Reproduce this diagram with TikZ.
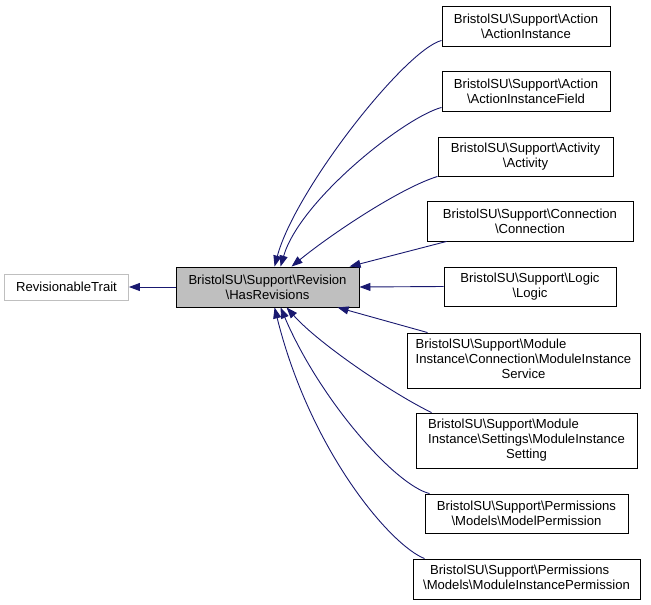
\documentclass[tikz,border=0pt]{standalone}
\usepackage{fontspec}
\setmainfont{Liberation Sans}
\usetikzlibrary{arrows.meta}
\definecolor{edgeblue}{HTML}{191970}
\definecolor{boxgray}{HTML}{BFBFBF}
\newcommand{\bs}{\textbackslash}
\tikzset{
  cls/.style={draw=black, line width=0.9pt, inner sep=0pt, align=center,
    font=\fontsize{13.1}{14.7}\selectfont},
  edge/.style={draw=edgeblue, line width=0.9pt,
    -{Triangle[length=11pt,width=8pt,fill=edgeblue]}},
}
\begin{document}
\begin{tikzpicture}[x=1pt,y=-1pt]
\useasboundingbox (0,0) rectangle (651,605);
\node[cls, draw=boxgray, minimum width=124pt, minimum height=26pt] (rt) at (66.5,287) {RevisionableTrait};
\node[cls, fill=boxgray, minimum width=183pt, minimum height=40pt] (hr) at (267.5,287) {BristolSU\bs Support\bs Revision\\\bs HasRevisions};
\node[cls, minimum width=168pt, minimum height=40pt] (ai) at (526,26) {BristolSU\bs Support\bs Action\\\bs ActionInstance};
\node[cls, minimum width=168pt, minimum height=40pt] (aif) at (526,91) {BristolSU\bs Support\bs Action\\\bs ActionInstanceField};
\node[cls, minimum width=175pt, minimum height=39pt] (act) at (525.5,156.5) {BristolSU\bs Support\bs Activity\\\bs Activity};
\node[cls, minimum width=206pt, minimum height=40pt] (conn) at (530,221) {BristolSU\bs Support\bs Connection\\\bs Connection};
\node[cls, minimum width=172pt, minimum height=39pt] (logic) at (530,286.5) {BristolSU\bs Support\bs Logic\\\bs Logic};
\node[cls, minimum width=233pt, minimum height=55pt] (mis) at (523.5,360.5) {\begin{tabular}{@{}l@{}}BristolSU\bs Support\bs Module\\Instance\bs Connection\bs ModuleInstance\\\multicolumn{1}{@{}c@{}}{Service}\end{tabular}};
\node[cls, minimum width=221pt, minimum height=55pt] (set) at (526.5,440.5) {\begin{tabular}{@{}l@{}}BristolSU\bs Support\bs Module\\Instance\bs Settings\bs ModuleInstance\\\multicolumn{1}{@{}c@{}}{Setting}\end{tabular}};
\node[cls, minimum width=203pt, minimum height=39pt] (mp) at (526.5,513.5) {BristolSU\bs Support\bs Permissions\\\bs Models\bs ModelPermission};
\node[cls, minimum width=227pt, minimum height=40pt] (mip) at (526.5,579) {\begin{tabular}{@{}l@{}}\hspace*{7pt}BristolSU\bs Support\bs Permissions\\\bs Models\bs ModuleInstancePermission\end{tabular}};

\draw[edge] (hr.west) -- (rt.east);
\draw[edge] ([yshift=6pt]ai.south west) .. controls (405,50) and (295,190) .. ([xshift=99pt]hr.north west);
\draw[edge] ([yshift=4pt]aif.south west) .. controls (405,117) and (300,200) .. ([xshift=105pt]hr.north west);
\draw[edge] (act.south west) .. controls (400,188) and (330,235) .. ([xshift=116pt]hr.north west);
\draw[edge] ([xshift=20pt]conn.south west) -- ([xshift=174pt]hr.north west);
\draw[edge] (logic.west) -- (hr.east);
\draw[edge] ([xshift=21pt]mis.north west) -- ([xshift=162pt]hr.south west);
\draw[edge] ([xshift=16pt]set.north west) .. controls (395,395) and (320,345) .. ([xshift=111pt]hr.south west);
\draw[edge] ([xshift=5pt]mp.north west) .. controls (395,485) and (320,400) .. ([xshift=105pt]hr.south west);
\draw[edge] ([xshift=12pt]mip.north west) .. controls (390,545) and (310,450) .. ([xshift=99pt]hr.south west);
\end{tikzpicture}
\end{document}
